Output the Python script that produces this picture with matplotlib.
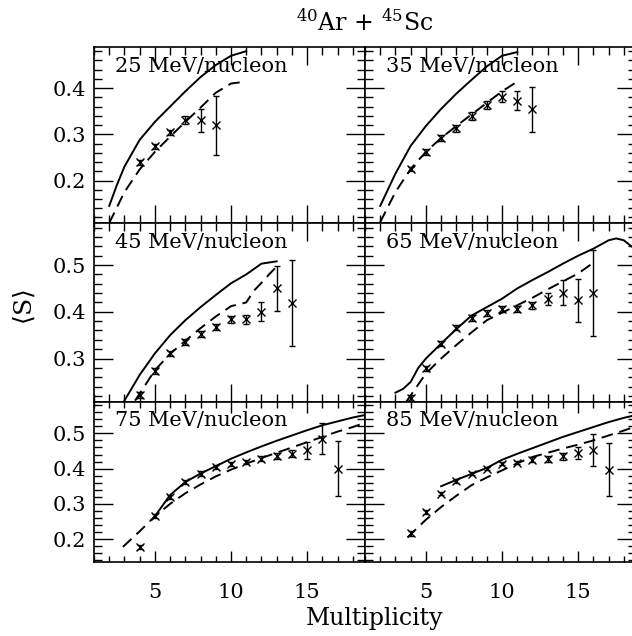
import matplotlib
matplotlib.use('Agg')
import matplotlib.pyplot as plt
from matplotlib.ticker import MultipleLocator, FormatStrFormatter

plt.rcParams['font.family'] = ['DejaVu Serif']
plt.rcParams['mathtext.fontset'] = 'dejavuserif'

# measured points (multiplicity, <S>, error)
mult_25 = [4, 5, 6, 7, 8, 9]
s_25 = [0.239, 0.274, 0.304, 0.331, 0.330, 0.320]
err_25 = [0.006, 0.006, 0.006, 0.008, 0.024, 0.064]

mult_35 = [4, 5, 6, 7, 8, 9, 10, 11, 12]
s_35 = [0.225, 0.262, 0.292, 0.313, 0.340, 0.363, 0.381, 0.373, 0.354]
err_35 = [0.005, 0.006, 0.006, 0.007, 0.008, 0.009, 0.012, 0.021, 0.049]

mult_45 = [4, 5, 6, 7, 8, 9, 10, 11, 12, 13, 14]
s_45 = [0.222, 0.273, 0.311, 0.336, 0.352, 0.367, 0.384, 0.384, 0.400, 0.450, 0.419]
err_45 = [0.006, 0.006, 0.006, 0.006, 0.006, 0.006, 0.007, 0.010, 0.020, 0.048, 0.092]

mult_65 = [4, 5, 6, 7, 8, 9, 10, 11, 12, 13, 14, 15, 16]
s_65 = [0.215, 0.279, 0.332, 0.366, 0.387, 0.398, 0.406, 0.406, 0.414, 0.427, 0.441, 0.425, 0.441]
err_65 = [0.006, 0.006, 0.006, 0.006, 0.006, 0.006, 0.006, 0.006, 0.007, 0.013, 0.027, 0.046, 0.092]

mult_75 = [4, 5, 6, 7, 8, 9, 10, 11, 12, 13, 14, 15, 16, 17]
s_75 = [0.178, 0.265, 0.320, 0.362, 0.386, 0.405, 0.414, 0.419, 0.428, 0.435, 0.442, 0.452, 0.485, 0.400]
err_75 = [0.005, 0.005, 0.006, 0.006, 0.006, 0.006, 0.006, 0.006, 0.007, 0.008, 0.010, 0.024, 0.043, 0.077]

mult_85 = [4, 5, 6, 7, 8, 9, 10, 11, 12, 13, 14, 15, 16, 17]
s_85 = [0.216, 0.277, 0.329, 0.365, 0.386, 0.400, 0.414, 0.417, 0.425, 0.428, 0.435, 0.444, 0.452, 0.397]
err_85 = [0.006, 0.005, 0.005, 0.005, 0.005, 0.005, 0.005, 0.005, 0.007, 0.008, 0.010, 0.018, 0.046, 0.075]

# model curves: solid and dashed
solid_x_25 = [2, 2.5, 3, 4, 5, 6, 7, 8, 9, 10, 11]
solid_25 = [0.145, 0.19, 0.23, 0.288, 0.327, 0.36, 0.393, 0.424, 0.45, 0.47, 0.48]
dash_x_25 = [2, 3, 4, 5, 6, 7, 8, 9, 10, 11]
dash_25 = [0.108, 0.175, 0.224, 0.262, 0.295, 0.327, 0.358, 0.39, 0.41, 0.414]

solid_x_35 = [2, 3, 4, 5, 6, 7, 8, 9, 10, 11]
solid_35 = [0.145, 0.215, 0.275, 0.318, 0.355, 0.388, 0.418, 0.447, 0.47, 0.478]
dash_x_35 = [2, 3, 4, 5, 6, 7, 8, 9, 10, 11]
dash_35 = [0.11, 0.175, 0.225, 0.262, 0.292, 0.318, 0.343, 0.368, 0.393, 0.414]

solid_x_45 = [3, 4, 5, 6, 7, 8, 9, 10, 11, 12, 13]
solid_45 = [0.21, 0.265, 0.311, 0.35, 0.382, 0.41, 0.436, 0.461, 0.48, 0.503, 0.508]
dash_x_45 = [3.7, 4, 5, 6, 7, 8, 9, 10, 11, 11.5, 12, 12.5, 13]
dash_45 = [0.21, 0.225, 0.275, 0.31, 0.338, 0.365, 0.39, 0.412, 0.42, 0.445, 0.462, 0.48, 0.497]

solid_x_65 = [3, 3.5, 4, 4.5, 5, 6, 7, 8, 9, 10, 11, 12, 13, 14, 15, 16, 17, 17.5, 18, 18.5]
solid_65 = [0.227, 0.235, 0.25, 0.28, 0.3, 0.332, 0.363, 0.392, 0.41, 0.428, 0.45, 0.468,
            0.485, 0.503, 0.52, 0.535, 0.553, 0.557, 0.553, 0.54]
dash_x_65 = [3.7, 5, 6, 7, 8, 9, 10, 11, 12, 13, 14, 15, 16]
dash_65 = [0.207, 0.268, 0.3, 0.329, 0.356, 0.382, 0.398, 0.414, 0.43, 0.448, 0.465, 0.482, 0.505]

solid_x_75 = [5, 6, 7, 8, 9, 10, 11, 12, 13, 14, 15, 16, 17, 18, 18.8]
solid_75 = [0.265, 0.325, 0.362, 0.386, 0.407, 0.428, 0.446, 0.463, 0.479, 0.494, 0.509,
            0.523, 0.534, 0.545, 0.552]
dash_x_75 = [2.9, 4, 5, 6, 7, 8, 9, 10, 11, 12, 13, 14, 15, 16, 17, 18, 18.8]
dash_75 = [0.178, 0.222, 0.265, 0.3, 0.33, 0.355, 0.378, 0.397, 0.414, 0.43, 0.445, 0.46,
           0.475, 0.49, 0.505, 0.518, 0.53]

solid_x_85 = [6, 7, 8, 9, 10, 11, 12, 13, 14, 15, 16, 17, 18, 18.8]
solid_85 = [0.35, 0.368, 0.385, 0.402, 0.425, 0.442, 0.458, 0.474, 0.49, 0.504, 0.518,
            0.532, 0.544, 0.552]
dash_x_85 = [3.8, 5, 6, 7, 8, 9, 10, 11, 12, 13, 14, 15, 16, 17, 18, 18.8]
dash_85 = [0.205, 0.255, 0.291, 0.323, 0.353, 0.375, 0.395, 0.415, 0.433, 0.445, 0.457,
           0.468, 0.48, 0.494, 0.508, 0.52]

labels = ['25 MeV/nucleon', '35 MeV/nucleon', '45 MeV/nucleon',
          '65 MeV/nucleon', '75 MeV/nucleon', '85 MeV/nucleon']

panels = [
    (mult_25, s_25, err_25, solid_x_25, solid_25, dash_x_25, dash_25),
    (mult_35, s_35, err_35, solid_x_35, solid_35, dash_x_35, dash_35),
    (mult_45, s_45, err_45, solid_x_45, solid_45, dash_x_45, dash_45),
    (mult_65, s_65, err_65, solid_x_65, solid_65, dash_x_65, dash_65),
    (mult_75, s_75, err_75, solid_x_75, solid_75, dash_x_75, dash_75),
    (mult_85, s_85, err_85, solid_x_85, solid_85, dash_x_85, dash_85),
]

W, H = 632, 636
fig = plt.figure(figsize=(W / 100, H / 100), dpi=100)

col_left = [94, 365]
col_w = 271
rows = [(47, 223), (223, 402), (402, 562)]
ylims = [(0.108, 0.489), (0.207, 0.590), (0.135, 0.589)]

for i, (mx, sy, se, sx, sv, dx, dv) in enumerate(panels):
    r, c = i // 2, i % 2
    top, bot = rows[r]
    ax = fig.add_axes([col_left[c] / W, 1 - bot / H, col_w / W, (bot - top) / H])

    ax.plot(sx, sv, color='black', lw=1.4)
    ax.plot(dx, dv, color='black', lw=1.4, linestyle=(0, (6, 3.5)))
    ax.errorbar(mx, sy, yerr=se, fmt='x', color='black', ms=6, mew=1.0,
                elinewidth=1.0, capsize=2.5, capthick=1.0)

    ax.set_xlim(1, 18.8)
    ax.set_ylim(*ylims[r])
    ax.xaxis.set_major_locator(MultipleLocator(5))
    ax.xaxis.set_minor_locator(MultipleLocator(1))
    ax.yaxis.set_major_locator(MultipleLocator(0.1))
    ax.yaxis.set_minor_locator(MultipleLocator(0.02))
    ax.yaxis.set_major_formatter(FormatStrFormatter('%.1f'))

    ax.tick_params(which='both', direction='in', top=True, right=True,
                   width=1.0, labelsize=15)
    ax.tick_params(axis='y', which='major', length=14)
    ax.tick_params(axis='y', which='minor', length=5.5)
    if r < 2:
        ax.tick_params(axis='x', which='major', length=13)
        ax.tick_params(axis='x', which='minor', length=5.5)
    else:
        ax.tick_params(axis='x', which='major', length=8)
        ax.tick_params(axis='x', which='minor', length=4.3)
    ax.tick_params(axis='x', pad=15)
    ax.tick_params(axis='y', pad=6)

    if c == 1:
        ax.tick_params(labelleft=False)
    if r < 2:
        ax.tick_params(labelbottom=False)

    for sp in ax.spines.values():
        sp.set_linewidth(1.2)

    ax.annotate(labels[i], xy=(0, 1), xycoords='axes fraction', xytext=(21, -19),
                textcoords='offset pixels', va='center', fontsize=15)

fig.text(365 / W, 1 - 22 / H, r'$^{40}$Ar + $^{45}$Sc', ha='center', va='center', fontsize=17)
fig.text(375 / W, 1 - 619 / H, 'Multiplicity', ha='center', va='center', fontsize=17)
fig.text(24 / W, 1 - 307 / H, r'$\langle$S$\rangle$', rotation=90, ha='center', va='center',
         fontsize=18)

fig.savefig('out.png', dpi=100)
